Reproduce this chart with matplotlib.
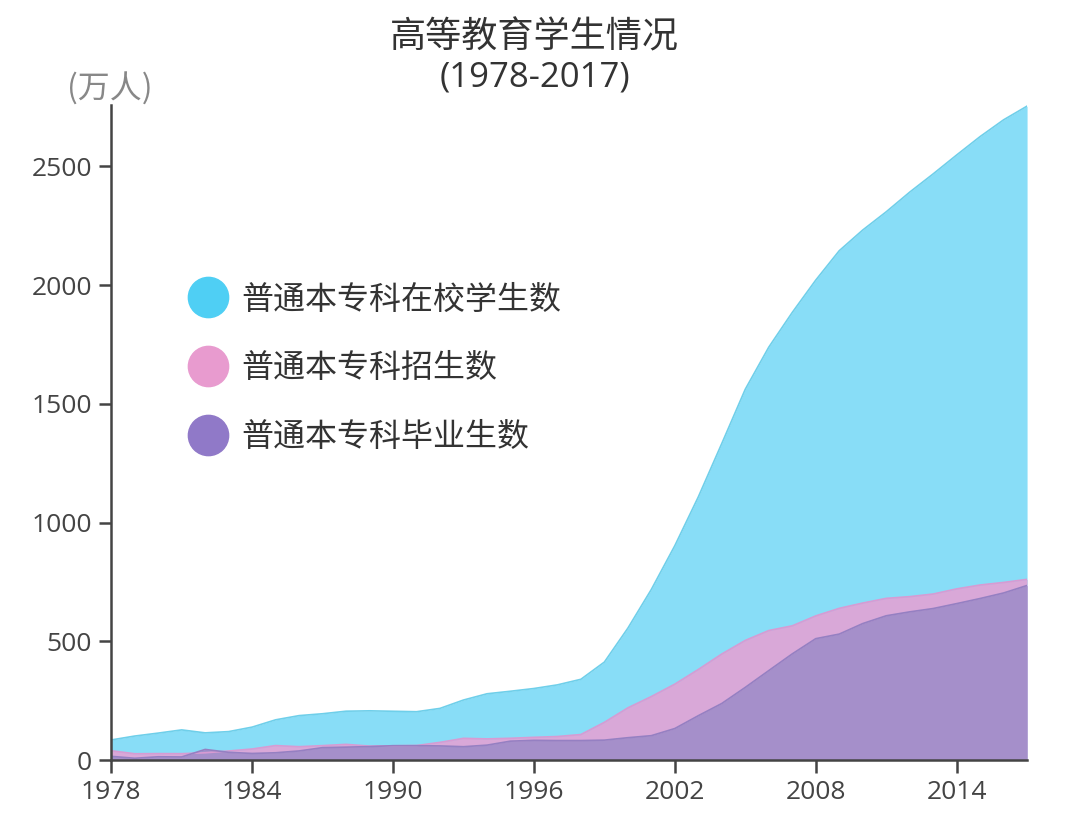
import numpy as np
import matplotlib.pyplot as plt
from matplotlib.lines import Line2D

plt.rcParams['font.family'] = ['Noto Sans CJK SC', 'DejaVu Sans']

# Data (万人)
years = list(range(1978, 2018))
enrolled = [85.6, 102, 114.4, 127.9, 115.4, 120.7, 139.6, 170.3, 188.0, 195.9,
            206.6, 208.2, 206.3, 204.4, 218.4, 253.6, 279.9, 290.6, 302.1, 317.4,
            340.9, 413.4, 556.1, 719.1, 903.4, 1108.6, 1333.5, 1561.8, 1738.8, 1884.9,
            2021.0, 2144.7, 2231.8, 2308.5, 2391.3, 2468.1, 2547.7, 2625.3, 2695.8, 2753.6]
admitted = [40.2, 27.5, 28.1, 27.9, 31.5, 39.1, 47.5, 61.9, 57.2, 61.7,
            67.0, 59.7, 60.9, 62.0, 75.4, 92.4, 90.0, 92.6, 96.6, 100.0,
            108.4, 159.7, 220.6, 268.3, 320.5, 382.2, 447.3, 504.5, 546.1, 565.9,
            607.7, 639.5, 661.8, 681.5, 688.8, 699.8, 721.4, 737.8, 748.6, 761.5]
graduates = [16.5, 8.5, 14.7, 14.0, 45.7, 33.5, 28.7, 31.6, 39.3, 53.2,
             55.3, 57.6, 61.4, 61.4, 60.4, 57.1, 63.7, 80.5, 83.9, 82.9,
             83.0, 84.8, 95.0, 103.6, 133.7, 187.7, 239.1, 306.8, 377.5, 447.8,
             511.9, 531.1, 575.4, 608.2, 624.7, 638.7, 659.4, 680.9, 704.2, 735.8]
series_names = ['普通本专科在校学生数', '普通本专科招生数', '普通本专科毕业生数']
fill_colors = ['#88DDF7', '#D9A8D8', '#A58FCA']
edge_colors = ['#6FCFEA', '#D79BD3', '#9580C2']
legend_colors = ['#4FCFF4', '#E89BCF', '#9079C8']
xticks = [1978, 1984, 1990, 1996, 2002, 2008, 2014]
yticks = [0, 500, 1000, 1500, 2000, 2500]

num_font = ['Open Sans', 'Noto Sans CJK SC']

fig = plt.figure(figsize=(10.8, 8.3), dpi=100)
ax = fig.add_axes([0.103, 0.084, 0.848, 0.790])

for vals, fc, ec in zip([enrolled, admitted, graduates], fill_colors, edge_colors):
    ax.fill_between(years, 0, vals, color=fc, linewidth=0)
    ax.plot(years, vals, color=ec, linewidth=1.2)

ax.set_xlim(1978, 2017)
ax.set_ylim(0, 2760)
ax.set_xticks(xticks)
ax.set_yticks(yticks)
ax.tick_params(colors='#444444', length=9, width=1.8, pad=5)
for lab in ax.get_xticklabels() + ax.get_yticklabels():
    lab.set_family(num_font)
    lab.set_fontsize(19)
for s in ['top', 'right']:
    ax.spines[s].set_visible(False)
for s in ['left', 'bottom']:
    ax.spines[s].set_color('#444444')
    ax.spines[s].set_linewidth(1.8)

fig.text(0.495, 0.955, '高等教育学生情况', ha='center', va='center', fontsize=26, color='#333333')
fig.text(0.495, 0.907, '(1978-2017)', ha='center', va='center', fontsize=25,
         color='#333333', family=num_font)
fig.text(0.102, 0.893, '(万人)', ha='center', va='center', fontsize=23, color='#888888')

handles = [Line2D([], [], marker='o', linestyle='none', markersize=29,
                  markerfacecolor=c, markeredgecolor=c) for c in legend_colors]
ax.legend(handles, series_names, loc='upper left', bbox_to_anchor=(0.039, 0.771),
          frameon=False, fontsize=23, labelspacing=1.15, handletextpad=0.05,
          labelcolor='#333333')

fig.savefig('out.png', dpi=100)
